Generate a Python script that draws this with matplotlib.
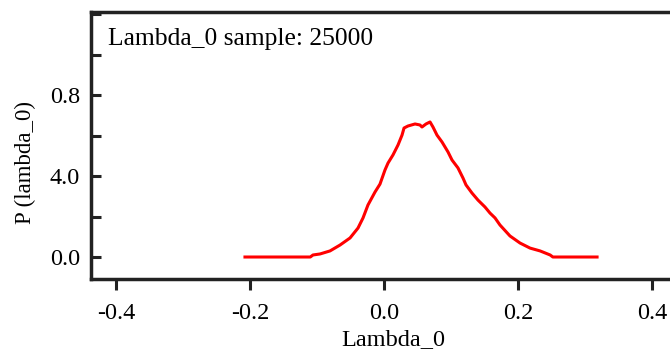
import matplotlib
matplotlib.use("Agg")
import matplotlib.pyplot as plt
from matplotlib.ticker import MultipleLocator

# posterior density of Lambda_0
lambda_0 = [-0.2075, -0.110, -0.106, -0.0955, -0.0806, -0.0657, -0.0507, -0.0388,
            -0.0313, -0.0239, -0.0134, -0.006, 0.0015, 0.006, 0.0134, 0.0209,
            0.0269, 0.0299, 0.0358, 0.0463, 0.0537, 0.0567, 0.0627, 0.0687,
            0.0731, 0.0791, 0.0866, 0.0955, 0.1015, 0.1104, 0.1179, 0.1224,
            0.1313, 0.1403, 0.1507, 0.1582, 0.1657, 0.1731, 0.188, 0.203,
            0.218, 0.233, 0.248, 0.252, 0.318]
p_lambda_0 = [0.0, 0.0, 0.1, 0.15, 0.3, 0.59, 0.94, 1.43,
              1.93, 2.57, 3.21, 3.6, 4.30, 4.64, 5.04, 5.53,
              6.02, 6.37, 6.47, 6.57, 6.52, 6.42, 6.57, 6.67,
              6.42, 6.02, 5.68, 5.19, 4.79, 4.40, 3.90, 3.56,
              3.16, 2.81, 2.47, 2.17, 1.93, 1.58, 1.04, 0.69,
              0.44, 0.30, 0.10, 0.0, 0.0]

x_ticks = [-0.4, -0.2, 0.0, 0.2, 0.4]
x_tick_labels = ["-0.4", "-0.2", "0.0", "0.2", "0.4"]
y_ticks = [0, 4, 8]
y_tick_labels = ["0.0", "4.0", "0.8"]

plt.rcParams['font.family'] = ['Liberation Serif', 'DejaVu Serif']

fig = plt.figure(figsize=(6.7, 3.54), dpi=100)
ax = fig.add_axes([91 / 670, 75 / 354, 586 / 670, 267 / 354])

ax.plot(lambda_0, p_lambda_0, color="red", linewidth=2.2)

ax.set_xlim(-0.4373, 0.4373)
ax.set_ylim(-1.086, 12.1)

ax.set_xticks(x_ticks)
ax.set_xticklabels(x_tick_labels)
ax.set_yticks(y_ticks)
ax.set_yticklabels(y_tick_labels)
ax.yaxis.set_minor_locator(MultipleLocator(2))

for side in ["left", "top", "bottom"]:
    ax.spines[side].set_linewidth(2.5)
    ax.spines[side].set_color("#222222")
ax.spines["right"].set_visible(False)

ax.tick_params(axis="x", direction="out", length=8, width=2.2, labelsize=17.5, pad=9, color="#222222")
ax.tick_params(axis="y", which="both", direction="in", length=7, width=2.2, labelsize=17.5, pad=8, color="#222222")
ax.tick_params(axis="y", which="minor", length=7)

ax.text(0.029, 0.898, "Lambda_0 sample: 25000", transform=ax.transAxes,
        fontsize=18.4, va="center", ha="left")

ax.set_xlabel("Lambda_0", fontsize=17.5)
ax.xaxis.set_label_coords((393 - 91) / 586, (279 - 329) / 267)
ax.set_ylabel("P (lambda_0)", fontsize=16.5)
ax.yaxis.set_label_coords((36 - 91) / 586, (279 - 162) / 267)

fig.savefig("out.png", dpi=100)
